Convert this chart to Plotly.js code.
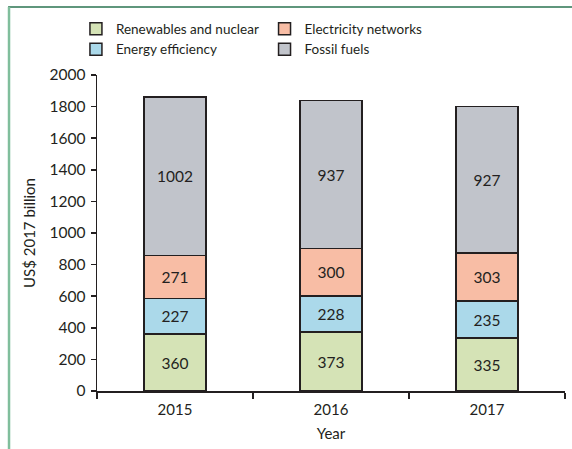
<!DOCTYPE html>
<html>
<head>
<meta charset="utf-8">
<script src="https://cdn.plot.ly/plotly-3.0.1.min.js"></script>
<style>html,body{margin:0;padding:0;background:#fff;}#chart{width:572px;height:449px;}</style>
</head>
<body>
<div id="chart"></div>
<script>
const years = ["2015", "2016", "2017"];
const renewables = [360, 373, 335];
const efficiency = [227, 228, 235];
const networks = [271, 300, 303];
const fossil = [1002, 937, 927];
const yTicks = [0, 200, 400, 600, 800, 1000, 1200, 1400, 1600, 1800, 2000];

const FONT = "Lato, 'Open Sans', sans-serif";
const txtColor = "#231f20";
const line = {color: "#231f20", width: 1.5};

function series(name, vals, color, legend, rank) {
  return {
    type: "bar", name: name, x: years, y: vals,
    marker: {color: color, line: line},
    width: 0.4,
    text: vals.map(String), textposition: "inside", insidetextanchor: "middle",
    textangle: 0, constraintext: "none",
    textfont: {family: FONT, size: 15.5, color: txtColor},
    hoverinfo: "none", legend: legend, legendrank: rank
  };
}

const data = [
  series("Renewables and nuclear", renewables, "#d5e3b6", "legend", 1),
  series("Energy efficiency", efficiency, "#abd9ea", "legend", 2),
  series("Electricity networks", networks, "#f8bda5", "legend2", 1),
  series("Fossil fuels", fossil, "#c1c4cb", "legend2", 2)
];

const legendBase = {
  orientation: "v", xanchor: "left", yanchor: "top",
  font: {family: FONT, size: 13.5, color: txtColor},
  bgcolor: "rgba(0,0,0,0)", tracegroupgap: 0, itemwidth: 30,
  traceorder: "normal"
};

const layout = {
  width: 572, height: 449,
  margin: {l: 97, r: 7, t: 75, b: 58},
  paper_bgcolor: "#fff", plot_bgcolor: "#fff",
  barmode: "stack",
  showlegend: true,
  font: {family: FONT, size: 14, color: txtColor},
  legend: Object.assign({}, legendBase, {x: -0.045, y: 1.195}),
  legend2: Object.assign({}, legendBase, {x: 0.358, y: 1.195}),
  xaxis: {
    type: "category", range: [-0.5, 2.5],
    showline: true, linecolor: "#231f20", linewidth: 1.5,
    ticks: "outside", tickson: "boundaries", ticklen: 6, tickwidth: 1.5, tickcolor: "#231f20",
    showgrid: false, zeroline: false, ticklabelstandoff: 4,
    tickfont: {family: FONT, size: 15, color: txtColor},
    title: {text: "Year", font: {family: FONT, size: 15, color: txtColor}, standoff: 12}
  },
  yaxis: {
    range: [0, 2000], tickvals: yTicks, ticktext: yTicks.map(String),
    showline: true, linecolor: "#231f20", linewidth: 1.5,
    ticks: "outside", ticklen: 5, tickwidth: 1.5, tickcolor: "#231f20",
    showgrid: false, zeroline: false, ticklabelstandoff: 2,
    tickfont: {family: FONT, size: 15.5, color: txtColor},
    title: {text: "US$ 2017 billion", font: {family: FONT, size: 15, color: txtColor}, standoff: 10}
  },
  shapes: [
    {type: "line", xref: "paper", yref: "paper", x0: -0.19, x1: 1.02, y0: 1.215, y1: 1.215,
     line: {color: "#2a7350", width: 1.5}},
    {type: "line", xref: "paper", yref: "paper", x0: -0.188, x1: -0.188, y0: 1.215, y1: -0.2,
     line: {color: "#80be9c", width: 2.5}}
  ]
};

Plotly.newPlot("chart", data, layout, {displayModeBar: false, staticPlot: true});
</script>
</body>
</html>
